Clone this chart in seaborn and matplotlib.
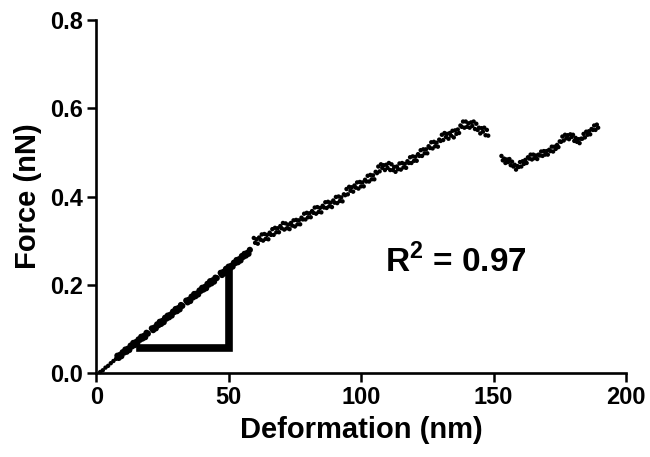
import numpy as np
import pandas as pd
import matplotlib
matplotlib.use("Agg")
import matplotlib.pyplot as plt
import seaborn as sns

# ---- data ----
start_x = [1.5, 2.5, 3.5, 4.5, 5.5, 6.5, 7.5]
start_y = [0.002, 0.006, 0.012, 0.016, 0.022, 0.027, 0.032]

dense_x = [8.0, 8.5, 9.0, 9.5, 10.0, 10.5, 11.0, 11.5, 12.0, 12.5, 13.0, 13.5,
           14.0, 14.5, 15.0, 15.5, 16.0, 16.5, 17.0, 17.5, 18.0, 18.5, 19.0, 19.5,
           21.0, 21.5, 22.0, 22.5, 23.0, 23.5, 24.0, 24.5, 25.0, 25.5, 26.0, 26.5,
           27.0, 27.5, 28.0, 28.5, 29.0, 29.5, 30.0, 30.5, 31.0, 31.5, 32.0, 32.5,
           34.0, 34.5, 35.0, 35.5, 36.0, 36.5, 37.0, 37.5, 38.0, 38.5, 39.0, 39.5,
           40.0, 40.5, 41.0, 41.5, 42.0, 42.5, 43.0, 43.5, 44.0, 44.5, 45.0, 45.5,
           47.0, 47.5, 48.0, 48.5, 49.0, 49.5, 50.0, 50.5, 51.0, 51.5, 52.0, 52.5,
           53.0, 53.5, 54.0, 54.5, 55.0, 55.5, 56.0, 56.5, 57.0, 57.5, 58.0]
dense_y = [0.039, 0.034, 0.041, 0.038, 0.047, 0.046, 0.053, 0.048, 0.055, 0.052, 0.062, 0.060,
           0.068, 0.063, 0.070, 0.067, 0.076, 0.075, 0.082, 0.078, 0.084, 0.081, 0.091, 0.089,
           0.101, 0.097, 0.103, 0.101, 0.110, 0.108, 0.116, 0.111, 0.118, 0.115, 0.125, 0.123,
           0.130, 0.126, 0.132, 0.130, 0.139, 0.138, 0.145, 0.140, 0.147, 0.144, 0.154, 0.152,
           0.164, 0.160, 0.166, 0.163, 0.173, 0.171, 0.179, 0.174, 0.180, 0.178, 0.187, 0.186,
           0.193, 0.189, 0.195, 0.192, 0.202, 0.200, 0.208, 0.203, 0.210, 0.207, 0.216, 0.215,
           0.227, 0.222, 0.229, 0.226, 0.236, 0.234, 0.241, 0.237, 0.243, 0.241, 0.250, 0.249,
           0.256, 0.251, 0.258, 0.255, 0.265, 0.263, 0.270, 0.266, 0.272, 0.270, 0.279]

sparse_x = [59.5, 60.0, 60.5, 61.0, 61.5, 62.0, 62.5, 63.0, 63.5, 64.0, 64.5, 65.0,
            65.5, 66.0, 66.5, 67.0, 67.5, 68.0, 68.5, 69.0, 69.5, 70.0, 70.5, 71.0,
            71.5, 72.0, 72.5, 73.0, 73.5, 74.0, 74.5, 75.0, 75.5, 76.0, 76.5, 77.0,
            77.5, 78.0, 78.5, 79.0, 79.5, 80.0, 80.5, 81.0, 81.5, 82.0, 82.5, 83.0,
            83.5, 84.0, 84.5, 85.0, 85.5, 86.0, 86.5, 87.0, 87.5, 88.0, 88.5, 89.0,
            89.5, 90.0, 90.5, 91.0, 91.5, 92.0, 92.5, 93.0, 93.5, 94.0, 94.5, 95.0,
            95.5, 96.0, 96.5, 97.0, 97.5, 98.0, 98.5, 99.0, 99.5, 100.0, 100.5, 101.0,
            101.5, 102.0, 102.5, 103.0, 103.5, 104.0, 104.5, 105.0, 105.5, 106.0, 106.5, 107.0,
            107.5, 108.0, 108.5, 109.0, 109.5, 110.0, 110.5, 111.0, 111.5, 112.0, 112.5, 113.0,
            113.5, 114.0, 114.5, 115.0, 115.5, 116.0, 116.5, 117.0, 117.5, 118.0, 118.5, 119.0,
            119.5, 120.0, 120.5, 121.0, 121.5, 122.0, 122.5, 123.0, 123.5, 124.0, 124.5, 125.0,
            125.5, 126.0, 126.5, 127.0, 127.5, 128.0, 128.5, 129.0, 129.5, 130.0, 130.5, 131.0,
            131.5, 132.0, 132.5, 133.0, 133.5, 134.0, 134.5, 135.0, 135.5, 136.0, 136.5, 137.0,
            137.5, 138.0, 138.5, 139.0, 139.5, 140.0, 140.5, 141.0, 141.5, 142.0, 142.5, 143.0,
            143.5, 144.0, 144.5, 145.0, 145.5, 146.0, 146.5, 147.0, 147.5, 148.0]
sparse_y = [0.306, 0.295, 0.303, 0.293, 0.307, 0.302, 0.314, 0.300, 0.315, 0.304, 0.313, 0.303,
            0.318, 0.313, 0.326, 0.313, 0.329, 0.319, 0.328, 0.319, 0.333, 0.328, 0.340, 0.325,
            0.339, 0.328, 0.336, 0.326, 0.340, 0.334, 0.346, 0.332, 0.347, 0.337, 0.346, 0.337,
            0.352, 0.348, 0.361, 0.348, 0.363, 0.353, 0.362, 0.353, 0.367, 0.363, 0.375, 0.361,
            0.376, 0.365, 0.374, 0.364, 0.379, 0.375, 0.387, 0.374, 0.388, 0.378, 0.386, 0.376,
            0.391, 0.386, 0.399, 0.385, 0.400, 0.390, 0.398, 0.389, 0.405, 0.403, 0.417, 0.405,
            0.422, 0.413, 0.421, 0.411, 0.425, 0.420, 0.432, 0.418, 0.433, 0.423, 0.432, 0.423,
            0.438, 0.434, 0.447, 0.434, 0.449, 0.439, 0.448, 0.439, 0.456, 0.453, 0.468, 0.457,
            0.473, 0.465, 0.471, 0.460, 0.472, 0.465, 0.476, 0.460, 0.473, 0.460, 0.467, 0.456,
            0.468, 0.462, 0.475, 0.461, 0.476, 0.466, 0.474, 0.465, 0.480, 0.476, 0.489, 0.476,
            0.491, 0.481, 0.490, 0.481, 0.496, 0.492, 0.505, 0.492, 0.507, 0.498, 0.507, 0.498,
            0.514, 0.510, 0.523, 0.509, 0.524, 0.514, 0.522, 0.513, 0.529, 0.526, 0.540, 0.528,
            0.544, 0.535, 0.542, 0.531, 0.544, 0.538, 0.549, 0.534, 0.550, 0.542, 0.552, 0.544,
            0.561, 0.558, 0.570, 0.556, 0.570, 0.558, 0.566, 0.556, 0.568, 0.560, 0.570, 0.553,
            0.565, 0.551, 0.556, 0.543, 0.555, 0.547, 0.556, 0.539, 0.551, 0.538]

tail_x = [153.0, 153.5, 154.0, 154.5, 155.0, 155.5, 156.0, 156.5, 157.0, 157.5, 158.0, 158.5,
          159.0, 159.5, 160.0, 160.5, 161.0, 161.5, 162.0, 162.5, 163.0, 163.5, 164.0, 164.5,
          165.0, 165.5, 166.0, 166.5, 167.0, 167.5, 168.0, 168.5, 169.0, 169.5, 170.0, 170.5,
          171.0, 171.5, 172.0, 172.5, 173.0, 173.5, 174.0, 174.5, 175.0, 175.5, 176.0, 176.5,
          177.0, 177.5, 178.0, 178.5, 179.0, 179.5, 180.0, 180.5, 181.0, 181.5, 182.0, 182.5,
          183.0, 183.5, 184.0, 184.5, 185.0, 185.5, 186.0, 186.5, 187.0, 187.5, 188.0, 188.5,
          189.0, 189.5]
tail_y = [0.492, 0.482, 0.486, 0.476, 0.484, 0.478, 0.485, 0.471, 0.479, 0.468, 0.472, 0.461,
          0.469, 0.467, 0.478, 0.468, 0.480, 0.474, 0.483, 0.476, 0.489, 0.486, 0.495, 0.484,
          0.495, 0.487, 0.493, 0.485, 0.495, 0.493, 0.502, 0.492, 0.503, 0.495, 0.503, 0.495,
          0.506, 0.503, 0.513, 0.502, 0.513, 0.508, 0.517, 0.512, 0.525, 0.524, 0.536, 0.527,
          0.540, 0.532, 0.539, 0.530, 0.541, 0.535, 0.540, 0.526, 0.533, 0.524, 0.530, 0.521,
          0.531, 0.531, 0.542, 0.534, 0.547, 0.540, 0.548, 0.541, 0.553, 0.551, 0.561, 0.551,
          0.563, 0.556]

# slope triangle (nm, nN)
slope_x = [16.6, 50.0, 50.0]
slope_y = [0.057, 0.057, 0.234]

x_ticks = [0, 50, 100, 150, 200]
y_ticks = [0.0, 0.2, 0.4, 0.6, 0.8]
r2_label = r"R$^{\mathbf{2}}$ = 0.97"
r2_pos = (109, 0.229)

dense_df = pd.DataFrame({"Deformation": dense_x, "Force": dense_y})
sparse_df = pd.DataFrame({
    "Deformation": start_x + sparse_x + tail_x,
    "Force": start_y + sparse_y + tail_y,
})

sns.set_style("ticks")
plt.rcParams["font.family"] = ["Liberation Sans", "DejaVu Sans"]
plt.rcParams["font.weight"] = "bold"
plt.rcParams["text.color"] = "black"
plt.rcParams["axes.labelcolor"] = "black"
plt.rcParams["mathtext.fontset"] = "custom"
plt.rcParams["mathtext.bf"] = "Liberation Sans:bold"
plt.rcParams["mathtext.rm"] = "Liberation Sans:bold"

fig = plt.figure(figsize=(6.5, 4.57), dpi=100)
ax = fig.add_axes([0.148, 0.184, 0.815, 0.772])

sns.scatterplot(data=sparse_df, x="Deformation", y="Force", ax=ax, color="black",
                s=10, linewidth=0, edgecolor="none")
sns.scatterplot(data=dense_df, x="Deformation", y="Force", ax=ax, color="black",
                s=20, linewidth=0, edgecolor="none")

ax.plot(slope_x, slope_y, color="black", lw=5.5, solid_joinstyle="miter",
        solid_capstyle="projecting")

ax.text(r2_pos[0], r2_pos[1], r2_label, fontsize=24, fontweight="bold",
        ha="left", va="baseline", color="black")

ax.set_xlim(0, 200)
ax.set_ylim(0, 0.8)
ax.set_xticks(x_ticks)
ax.set_yticks(y_ticks)
ax.set_xticklabels([f"{v:d}" for v in x_ticks])
ax.set_yticklabels([f"{v:.1f}" for v in y_ticks])
ax.set_xlabel("Deformation (nm)", fontsize=21, fontweight="bold", labelpad=5,
              color="black")
ax.set_ylabel("Force (nN)", fontsize=21, fontweight="bold", labelpad=6,
              color="black")
ax.tick_params(axis="both", labelsize=17, width=1.8, length=6.5, pad=3,
               color="black", labelcolor="black")
for lab in ax.get_xticklabels() + ax.get_yticklabels():
    lab.set_fontweight("bold")
sns.despine(ax=ax)
for sp in ["left", "bottom"]:
    ax.spines[sp].set_linewidth(1.9)
    ax.spines[sp].set_color("black")
for c in ax.collections:
    c.set_clip_on(False)

fig.savefig("out.png", dpi=100)
